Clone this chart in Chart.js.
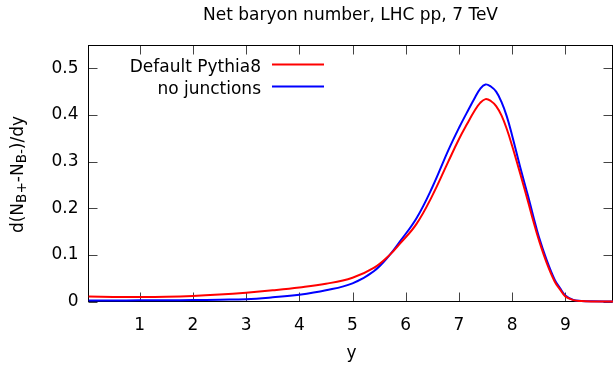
<!DOCTYPE html>
<html>
<head>
<meta charset="utf-8">
<script src="https://cdn.jsdelivr.net/npm/chart.js@4.4.1/dist/chart.umd.min.js"></script>
<style>
html,body{margin:0;padding:0;background:#fff;}
#wrap{width:613px;height:368px;position:relative;}
</style>
</head>
<body>
<div id="wrap"><canvas id="c" width="613" height="368"></canvas></div>
<script>
// ---- data ----
const chartTitle = 'Net baryon number, LHC pp, 7 TeV';
const xTitle = 'y';
const seriesNames = ['Default Pythia8', 'no junctions'];
const seriesColors = ['#ff0000', '#0000ff'];
const rapidity = [0.04,0.5,1,1.5,2,2.5,3,3.5,4,4.5,
                  5,5.4,5.7,5.9,6.2,6.5,6.8,7.0,7.15,7.3,
                  7.4,7.5,7.6,7.7,7.8,7.9,8.0,8.15,8.3,8.4,
                  8.5,8.65,8.8,8.9,9.0,9.15,9.3,9.5,9.9];
const defaultPythia = [0.0105,0.0098,0.0097,0.0103,0.012,0.015,0.019,0.024,0.030,0.038,
                       0.051,0.072,0.100,0.125,0.166,0.227,0.300,0.348,0.380,0.410,
                       0.426,0.434,0.430,0.419,0.399,0.370,0.334,0.275,0.214,0.172,
                       0.133,0.083,0.043,0.026,0.011,0.003,0.001,0.0002,0];
const noJunctions = [0.002,0.0022,0.0025,0.0028,0.003,0.004,0.005,0.009,0.0145,0.024,
                     0.039,0.065,0.100,0.130,0.178,0.245,0.324,0.372,0.405,0.437,
                     0.456,0.4655,0.461,0.450,0.428,0.397,0.356,0.289,0.226,0.182,
                     0.140,0.089,0.047,0.0287,0.013,0.0036,0.0012,0.0003,0];
const xTickValues = [1,2,3,4,5,6,7,8,9];
const xTickLabels = ['1','2','3','4','5','6','7','8','9'];
const yTickValues = [0,0.1,0.2,0.3,0.4,0.5];
const yTickLabels = ['0','0.1','0.2','0.3','0.4','0.5'];

const FONT = 'DejaVu Sans';
Chart.defaults.font.family = FONT;
Chart.defaults.font.size = 17;
Chart.defaults.color = '#000';

function toPoints(xs, ys){ return xs.map((x,i)=>({x:x, y:ys[i]})); }

const decor = {
  id: 'decor',
  beforeDatasetsDraw(chart){
    const {ctx, chartArea:a, scales} = chart;
    const x = scales.x, y = scales.y;
    ctx.save();
    ctx.lineWidth = 1;
    ctx.strokeStyle = '#444';
    ctx.beginPath();
    x.ticks.forEach(t=>{
      const px = Math.round(x.getPixelForValue(t.value)) + 0.5;
      ctx.moveTo(px, a.bottom); ctx.lineTo(px, a.bottom - 9);
      ctx.moveTo(px, a.top); ctx.lineTo(px, a.top + 9);
    });
    y.ticks.forEach(t=>{
      const py = Math.round(y.getPixelForValue(t.value)) + 0.5;
      ctx.moveTo(a.left, py); ctx.lineTo(a.left + 9, py);
      ctx.moveTo(a.right, py); ctx.lineTo(a.right - 9, py);
    });
    ctx.stroke();
    ctx.strokeStyle = '#000';
    ctx.strokeRect(a.left, a.top, a.right - a.left, a.bottom - a.top);
    ctx.restore();
  },
  afterDraw(chart){
    const {ctx, chartArea:a} = chart;
    ctx.save();
    ctx.fillStyle = '#000';
    // title
    ctx.font = '17px "' + FONT + '"';
    ctx.textAlign = 'center';
    ctx.textBaseline = 'alphabetic';
    ctx.fillText(chartTitle, (a.left + a.right) / 2, 20);
    // x axis title
    ctx.fillText(xTitle, (a.left + a.right) / 2 + 1, 358);
    // y axis title with subscripts, rotated
    const parts = [['d(N',0],['B+',1],['-N',0],['B-',1],[')/dy',0]];
    const mainF = '17px "' + FONT + '"', subF = '13.6px "' + FONT + '"';
    let W = 0;
    parts.forEach(p=>{ ctx.font = p[1] ? subF : mainF; W += ctx.measureText(p[0]).width; });
    ctx.translate(23, (a.top + a.bottom) / 2 + 1);
    ctx.rotate(-Math.PI / 2);
    ctx.textAlign = 'left';
    let cx = -W / 2;
    parts.forEach(p=>{
      ctx.font = p[1] ? subF : mainF;
      ctx.fillText(p[0], cx, p[1] ? 3 : 0);
      cx += ctx.measureText(p[0]).width;
    });
    ctx.restore();
    // legend (text right aligned, sample line to the right)
    ctx.save();
    ctx.font = mainF;
    ctx.textAlign = 'right';
    ctx.textBaseline = 'alphabetic';
    chart.data.datasets.forEach((ds, i)=>{
      const ly = 64.5 + i * 22;
      ctx.fillStyle = '#000';
      ctx.fillText(ds.label, 261, ly + 7.5);
      ctx.strokeStyle = ds.borderColor;
      ctx.lineWidth = 2;
      ctx.beginPath();
      ctx.moveTo(272, ly); ctx.lineTo(324, ly);
      ctx.stroke();
    });
    ctx.restore();
  }
};

new Chart(document.getElementById('c'), {
  type: 'line',
  data: {
    datasets: [
      { label: seriesNames[0], data: toPoints(rapidity, defaultPythia), borderColor: seriesColors[0],
        borderWidth: 2, pointRadius: 0, tension: 0.4, fill: false,
        clip: {left: 1, right: 1, top: 1, bottom: 2} },
      { label: seriesNames[1], data: toPoints(rapidity, noJunctions), borderColor: seriesColors[1],
        borderWidth: 2, pointRadius: 0, tension: 0.4, fill: false,
        clip: {left: 1, right: 1, top: 1, bottom: 2} }
    ]
  },
  options: {
    responsive: false,
    animation: false,
    events: [],
    layout: { padding: { top: 45.5, right: 0.5, left: 0, bottom: 0 } },
    plugins: { legend: { display: false }, title: { display: false }, tooltip: { enabled: false } },
    scales: {
      x: {
        type: 'linear', min: 0.0376, max: 9.887,
        grid: { display: false, drawTicks: false },
        border: { display: false },
        afterBuildTicks: s => { s.ticks = xTickValues.map(v=>({value:v})); },
        ticks: { padding: 14, maxRotation: 0, autoSkip: false,
                 callback: (v, i) => xTickLabels[i] },
        afterFit: s => { s.height = 66.5; }
      },
      y: {
        type: 'linear', min: 0, max: 0.549,
        grid: { display: false, drawTicks: false },
        border: { display: false },
        afterBuildTicks: s => { s.ticks = yTickValues.map(v=>({value:v})); },
        ticks: { padding: 10, autoSkip: false,
                 callback: (v, i) => yTickLabels[i] },
        afterFit: s => { s.width = 88.5; }
      }
    }
  },
  plugins: [decor]
});
</script>
</body>
</html>
